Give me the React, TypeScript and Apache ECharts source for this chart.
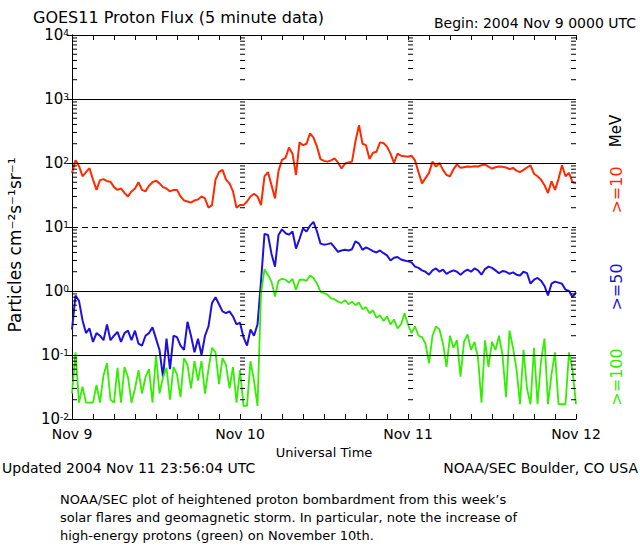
import { useEffect, useRef } from 'react';
import * as echarts from 'echarts';

// GOES11 integral proton flux, one value every 30 minutes from 2004 Nov 9 0000 UTC
const stepHours = 0.5;

const dayLabels = ['Nov 9', 'Nov 10', 'Nov 11', 'Nov 12'];

// >=10 MeV
const proton10 = [
  70, 110, 90, 62, 72, 83, 55, 38, 54, 56, 52, 51,
  42, 38, 40, 34, 30, 36, 40, 50, 38, 36, 44, 50,
  53, 48, 42, 40, 36, 38, 38, 30, 26, 25, 24, 26,
  27, 30, 28, 20, 22, 55, 72, 78, 55, 48, 36, 20,
  22, 22, 25, 30, 33, 30, 22, 62, 72, 45, 28, 75,
  112, 120, 175, 140, 65, 210, 190, 200, 290, 250, 180, 115,
  108, 105, 110, 118, 102, 82, 98, 102, 105, 220, 390, 200,
  190, 115, 145, 150, 210, 205, 180, 140, 100, 140, 130, 128,
  125, 130, 110, 72, 48, 58, 70, 105, 88, 100, 78, 65,
  62, 80, 95, 84, 86, 88, 87, 89, 88, 92, 95, 88,
  82, 86, 88, 87, 85, 80, 84, 76, 72, 78, 85, 92,
  68, 62, 55, 45, 34, 52, 38, 56, 92, 62, 70, 50,
  48,
];

// >=50 MeV
const proton50 = [
  0.25, 0.85, 0.7, 0.35, 0.22, 0.26, 0.16, 0.22, 0.2, 0.17, 0.3, 0.17,
  0.2, 0.23, 0.16, 0.22, 0.24, 0.17, 0.24, 0.15, 0.14, 0.2, 0.22, 0.27,
  0.18, 0.12, 0.045, 0.18, 0.06, 0.2, 0.19, 0.14, 0.12, 0.33, 0.2, 0.11,
  0.18, 0.1, 0.2, 0.28, 0.65, 0.8, 0.62, 0.48, 0.45, 0.48, 0.4, 0.3,
  0.32, 0.19, 0.14, 0.25, 0.2, 0.3, 1.4, 7.8, 7.5, 3.8, 2.4, 7.5,
  9.2, 8.0, 7.6, 8.5, 4.6, 6.5, 9.5, 8.5, 10.5, 12, 8.5, 5.5,
  5.3, 5.4, 5.6, 4.8, 4.1, 4.3, 4.4, 4.3, 4.5, 6.0, 5.5, 4.4,
  4.8, 4.5, 4.2, 4.0, 4.3, 3.9, 3.6, 3.0, 3.3, 3.4, 3.1, 3.0,
  2.9, 2.8, 2.4, 2.3, 2.1, 2.0, 1.8, 2.1, 2.25, 2.0, 2.15, 1.85,
  2.0, 2.1, 2.0, 1.8, 2.0, 2.15, 2.0, 2.25, 2.1, 1.8, 2.2, 2.4,
  2.3, 2.1, 1.9, 2.05, 2.0, 1.85, 1.95, 1.8, 1.75, 2.0, 1.9, 1.3,
  1.5, 1.6, 1.45, 1.2, 0.85, 1.3, 1.4, 1.35, 1.3, 1.05, 1.0, 0.8,
  0.95,
];

// >=100 MeV
const proton100 = [
  0.025, 0.11, 0.018, 0.032, 0.018, 0.018, 0.018, 0.034, 0.018, 0.048, 0.075, 0.02,
  0.018, 0.063, 0.018, 0.065, 0.045, 0.018, 0.03, 0.058, 0.025, 0.045, 0.06, 0.018,
  0.1, 0.025, 0.045, 0.063, 0.02, 0.065, 0.05, 0.022, 0.089, 0.07, 0.03, 0.08,
  0.04, 0.08, 0.025, 0.06, 0.13, 0.11, 0.035, 0.089, 0.07, 0.03, 0.065, 0.018,
  0.058, 0.016, 0.016, 0.08, 0.04, 0.016, 0.9, 2.2, 1.78, 1.4, 0.82, 1.45,
  1.55, 1.5, 1.35, 1.55, 1.05, 1.5, 1.5, 1.45, 1.75, 1.6, 1.3, 0.98,
  0.93, 0.88, 0.77, 0.74, 0.68, 0.65, 0.72, 0.62, 0.68, 0.6, 0.66, 0.52,
  0.56, 0.45, 0.5, 0.38, 0.42, 0.34, 0.4, 0.3, 0.36, 0.26, 0.3, 0.45,
  0.3, 0.22, 0.28, 0.2, 0.19, 0.15, 0.074, 0.2, 0.28, 0.25, 0.15, 0.065,
  0.2, 0.13, 0.17, 0.046, 0.16, 0.21, 0.12, 0.16, 0.09, 0.018, 0.17, 0.065,
  0.16, 0.12, 0.2, 0.1, 0.022, 0.24, 0.13, 0.06, 0.017, 0.12, 0.03, 0.017,
  0.13, 0.017, 0.08, 0.18, 0.017, 0.05, 0.11, 0.017, 0.017, 0.017, 0.11, 0.058,
  0.017,
];

// horizontal reference lines
const solidLevels = [1000, 100, 1, 0.1];
const dashedLevels = [10];

// log minor ticks drawn at the plot edges and at each day boundary
const decades = [0.01, 0.1, 1, 10, 100, 1000];
const minorMultipliers = [2, 3, 4, 5, 6, 7, 8, 9];
const tickColumns = [0, 24, 48, 72];

const captionLines = [
  'NOAA/SEC plot of heightened proton bombardment from this week’s',
  'solar flares and geomagnetic storm. In particular, note the increase of',
  'high-energy protons (green) on November 10th.',
];

const FONT = "'DejaVu Sans', sans-serif";
const RED = '#ff2a00';
const BLUE = '#1e10e0';
const GREEN = '#33ee00';

const toPairs = (vals: number[]) => vals.map((v, i) => [i * stepHours, v]);

export default function App() {
  const chartRef = useRef<HTMLDivElement>(null);

  useEffect(() => {
    if (!chartRef.current) return;
    const chart = echarts.init(chartRef.current, null, { renderer: 'svg' });

    const minorTickData: number[][] = [];
    tickColumns.forEach((x) => {
      decades.forEach((d) => {
        minorMultipliers.forEach((m) => minorTickData.push([x, m * d]));
      });
    });

    const xAxisBase = {
      type: 'value' as const,
      min: 0,
      max: 72,
      interval: 24,
      axisLine: { show: true, lineStyle: { color: '#000', width: 1 } },
      axisTick: { show: true, inside: true, length: 5, lineStyle: { color: '#000' } },
      minorTick: { show: true, splitNumber: 8, length: 5, lineStyle: { color: '#000' } },
      splitLine: { show: false },
    };

    const yAxisBase = {
      type: 'log' as const,
      logBase: 10,
      min: 0.01,
      max: 10000,
      axisLine: { show: true, lineStyle: { color: '#000', width: 1 } },
      axisTick: { show: true, inside: true, length: 5, lineStyle: { color: '#000' } },
      splitLine: { show: false },
    };

    const textStyle = { fontFamily: FONT, fill: '#000' };

    chart.setOption({
      animation: false,
      backgroundColor: '#fff',
      grid: { left: 72, top: 35, width: 504, height: 384 },
      xAxis: [
        {
          ...xAxisBase,
          position: 'bottom',
          axisLabel: {
            color: '#000',
            fontFamily: FONT,
            fontSize: 14,
            margin: 8,
            formatter: (v: number) => dayLabels[Math.round(v / 24)],
          },
          name: 'Universal Time',
          nameLocation: 'middle',
          nameGap: 27,
          nameTextStyle: { color: '#000', fontFamily: FONT, fontSize: 13 },
        },
        { ...xAxisBase, position: 'top', axisLabel: { show: false } },
      ],
      yAxis: [
        {
          ...yAxisBase,
          position: 'left',
          axisLabel: {
            margin: 3,
            formatter: (v: number) => `{b|10}{s|${Math.round(Math.log10(v))}}`,
            rich: {
              b: { fontFamily: FONT, fontSize: 15, color: '#000', lineHeight: 14 },
              s: { fontFamily: FONT, fontSize: 9, color: '#000', verticalAlign: 'top', lineHeight: 8 },
            },
          },
        },
        { ...yAxisBase, position: 'right', axisLabel: { show: false } },
      ],
      series: [
        {
          type: 'line',
          data: [],
          z: 1,
          markLine: {
            silent: true,
            symbol: 'none',
            label: { show: false },
            data: [
              ...solidLevels.map((v) => ({ yAxis: v, lineStyle: { color: '#000', width: 1, type: 'solid' } })),
              ...dashedLevels.map((v) => ({ yAxis: v, lineStyle: { color: '#000', width: 1, type: [6, 4] } })),
            ],
          },
        },
        {
          type: 'custom',
          z: 3,
          silent: true,
          data: minorTickData,
          encode: { x: 0, y: 1 },
          renderItem: (_params: any, api: any) => {
            const x = api.value(0);
            const p = api.coord([x, api.value(1)]);
            const dir = x >= 72 ? -1 : 1;
            return {
              type: 'line',
              shape: { x1: p[0], y1: p[1], x2: p[0] + dir * 5, y2: p[1] },
              style: { stroke: '#000', lineWidth: 1 },
            };
          },
        },
        {
          name: '>=10 MeV',
          type: 'line',
          z: 2,
          data: toPairs(proton10),
          symbol: 'none',
          lineStyle: { color: RED, width: 2 },
        },
        {
          name: '>=50 MeV',
          type: 'line',
          z: 2,
          data: toPairs(proton50),
          symbol: 'none',
          lineStyle: { color: BLUE, width: 2 },
        },
        {
          name: '>=100 MeV',
          type: 'line',
          z: 2,
          data: toPairs(proton100),
          symbol: 'none',
          lineStyle: { color: GREEN, width: 1.8 },
        },
      ],
      graphic: [
        { type: 'text', x: 33, y: 17, style: { ...textStyle, text: 'GOES11 Proton Flux (5 minute data)', fontSize: 16, verticalAlign: 'middle' } },
        { type: 'text', x: 636, y: 23, style: { ...textStyle, text: 'Begin: 2004 Nov 9 0000 UTC', fontSize: 14, align: 'right', verticalAlign: 'middle' } },
        { type: 'text', x: 15, y: 245, rotation: Math.PI / 2, style: { ...textStyle, text: 'Particles cm⁻²s⁻¹sr⁻¹', fontSize: 17, align: 'center', verticalAlign: 'middle' } },
        { type: 'text', x: 616, y: 131, rotation: Math.PI / 2, style: { ...textStyle, text: 'MeV', fontSize: 15, align: 'center', verticalAlign: 'middle' } },
        { type: 'text', x: 616, y: 190, rotation: Math.PI / 2, style: { ...textStyle, text: '>=10', fill: RED, fontSize: 16, align: 'center', verticalAlign: 'middle' } },
        { type: 'text', x: 616, y: 287, rotation: Math.PI / 2, style: { ...textStyle, text: '>=50', fill: BLUE, fontSize: 16, align: 'center', verticalAlign: 'middle' } },
        { type: 'text', x: 616, y: 377, rotation: Math.PI / 2, style: { ...textStyle, text: '>=100', fill: GREEN, fontSize: 16, align: 'center', verticalAlign: 'middle' } },
        { type: 'text', x: 2, y: 468, style: { ...textStyle, text: 'Updated 2004 Nov 11 23:56:04 UTC', fontSize: 14, verticalAlign: 'middle' } },
        { type: 'text', x: 638, y: 468, style: { ...textStyle, text: 'NOAA/SEC Boulder, CO USA', fontSize: 14, align: 'right', verticalAlign: 'middle' } },
        { type: 'text', x: 60, y: 490, style: { ...textStyle, text: captionLines.join('\n'), fontSize: 13, lineHeight: 18, verticalAlign: 'top' } },
      ],
    });

    return () => chart.dispose();
  }, []);

  return (
    <div style={{ position: 'fixed', left: 0, top: 0, width: 640, height: 550, background: '#fff' }}>
      <div ref={chartRef} style={{ width: 640, height: 550 }} />
    </div>
  );
}
